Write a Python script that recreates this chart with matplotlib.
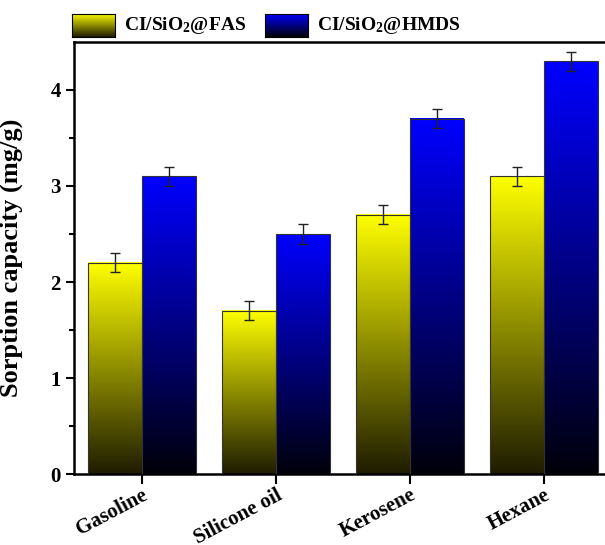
import numpy as np
import matplotlib
matplotlib.use("Agg")
import matplotlib.pyplot as plt
import matplotlib.transforms as mtransforms
from matplotlib.colors import LinearSegmentedColormap
from matplotlib.patches import Rectangle

plt.rcParams['font.family'] = ['Liberation Serif', 'DejaVu Serif']
plt.rcParams['font.weight'] = 'bold'
plt.rcParams['mathtext.fontset'] = 'custom'
plt.rcParams['mathtext.rm'] = 'Liberation Serif:bold'
plt.rcParams['mathtext.it'] = 'Liberation Serif:bold'
plt.rcParams['mathtext.bf'] = 'Liberation Serif:bold'

categories = ["Gasoline", "Silicone oil", "Kerosene", "Hexane"]
fas_values = [2.2, 1.7, 2.7, 3.1]
hmds_values = [3.1, 2.5, 3.7, 4.3]
fas_err = [0.1, 0.1, 0.1, 0.1]
hmds_err = [0.1, 0.1, 0.1, 0.1]
series_labels = [r"CI/SiO$_2$@FAS", r"CI/SiO$_2$@HMDS"]

fig = plt.figure(figsize=(6.05, 5.45), dpi=100)
ax = fig.add_axes([74/605, 71/545, 538/605, 432/545])

x = np.arange(1, len(categories) + 1)
w = 0.4

cmap_y = LinearSegmentedColormap.from_list("y", ["#1e1c00", "#ffff00"])
cmap_b = LinearSegmentedColormap.from_list("b", ["#00000a", "#0000ff"])
grad = np.linspace(0, 1, 256).reshape(-1, 1)

def gbar(xc, h, cmap):
    ax.imshow(grad, cmap=cmap, origin='lower', aspect='auto',
              extent=[xc - w/2, xc + w/2, 0, h], zorder=2)
    ax.add_patch(Rectangle((xc - w/2, 0), w, h, fill=False,
                           edgecolor='#333333', lw=0.8, zorder=3))

for xi, v in zip(x - w/2, fas_values):
    gbar(xi, v, cmap_y)
for xi, v in zip(x + w/2, hmds_values):
    gbar(xi, v, cmap_b)

ax.errorbar(x - w/2, fas_values, yerr=fas_err, fmt='none', ecolor='#222222',
            elinewidth=1, capsize=3.5, capthick=1, zorder=4)
ax.errorbar(x + w/2, hmds_values, yerr=hmds_err, fmt='none', ecolor='#222222',
            elinewidth=1, capsize=3.5, capthick=1, zorder=4)

ax.set_xlim(0.493, 4.507)
ax.set_ylim(0, 4.5)
ax.set_xticks(x)
ax.set_xticklabels(categories, rotation=28, ha='right', rotation_mode='anchor',
                   fontsize=15, fontweight='bold')
offset = mtransforms.ScaledTranslation(13/100, 0, fig.dpi_scale_trans)
for lab in ax.get_xticklabels():
    lab.set_transform(lab.get_transform() + offset)
ax.set_yticks([0, 1, 2, 3, 4])
ax.set_yticks([0.5, 1.5, 2.5, 3.5], minor=True)
ax.tick_params(axis='y', which='major', direction='out', length=6, width=1.5, labelsize=15)
ax.tick_params(axis='y', which='minor', direction='out', length=3.5, width=1.5)
ax.tick_params(axis='x', which='major', direction='out', length=7, width=1.5, labelsize=15, pad=1)
for lab in ax.get_yticklabels():
    lab.set_fontweight('bold')
for s in ax.spines.values():
    s.set_linewidth(1.8)
ax.set_ylabel("Sorption capacity (mg/g)", fontsize=19, fontweight='bold')
ax.yaxis.set_label_coords(-0.095, 0.50)

# legend above the axes
for (px, cmap, lab) in [(72, cmap_y, series_labels[0]), (265, cmap_b, series_labels[1])]:
    lax = fig.add_axes([px/605, 1 - 37/545, 43/605, 23/545])
    lax.imshow(np.linspace(0.15, 1, 64).reshape(-1, 1), cmap=cmap, origin='lower',
               aspect='auto', extent=[0, 1, 0, 1])
    lax.set_xticks([]); lax.set_yticks([])
    for s in lax.spines.values():
        s.set_linewidth(0.8)
    fig.text((px + 52)/605, 1 - 25/545, lab, fontsize=14, fontweight='bold', va='center', ha='left')

fig.savefig("out.png", dpi=100)
